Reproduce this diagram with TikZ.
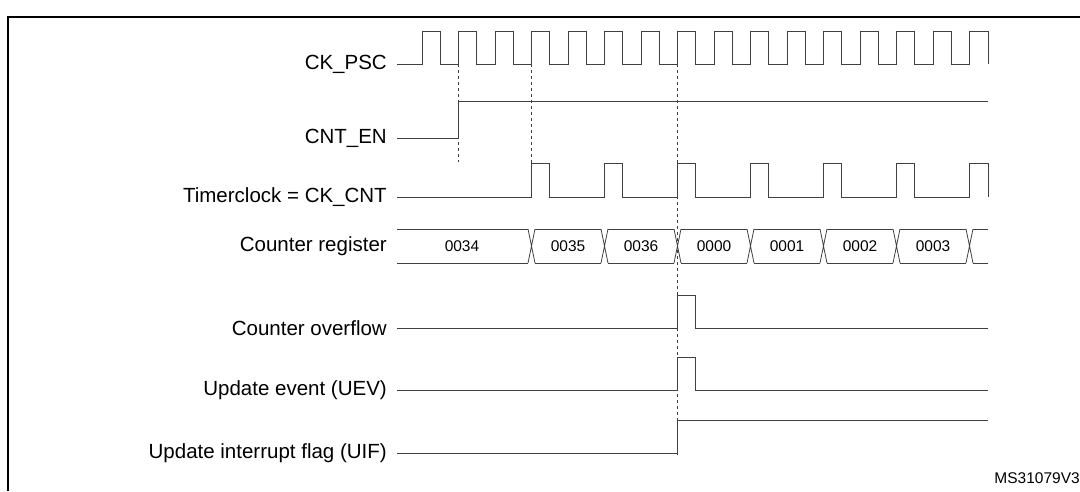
\documentclass[tikz,border=0pt]{standalone}
\usepackage{fontspec}
\setmainfont{Liberation Sans}
\usetikzlibrary{positioning}
\tikzset{
  sig/.style={draw=black!75, line width=0.8pt},
  guide/.style={draw=black!75, dashed, line width=0.6pt},
  lbl/.style={anchor=east, inner sep=0pt, font=\fontsize{20.5}{22}\selectfont},
  val/.style={inner sep=0pt, font=\fontsize{15.5}{17}\selectfont}
}
\newcommand{\tk}[1]{(422+36.5*(#1))}
\begin{document}
\begin{tikzpicture}[x=1pt, y=-1pt]
    \useasboundingbox (0,0) rectangle (1080,491);
    % frame
    \draw[line width=1.6pt] (8,491) -- (8,17) -- (1082,17);

    % labels
    \node[lbl] (psc) at (387,64) {CK\_PSC};
    \node[lbl] (en) at (387,138) {CNT\_EN};
    \node[lbl] (cnt) at (387,197) {Timerclock = CK\_CNT};
    \node[lbl] (reg) at (387,246) {Counter register};
    \node[lbl] (ovf) at (387,328) {Counter overflow};
    \node[lbl] (uev) at (387,390) {Update event (UEV)};
    \node[lbl] (uif) at (387,453) {Update interrupt flag (UIF)};

    % CK_PSC
    \draw[sig] (397,64) -- (422,64)
      \foreach \k in {0,...,14} { -- ({\tk{\k}},31) -- ({\tk{\k}+18.25},31) -- ({\tk{\k}+18.25},64) -- ({\tk{\k+1}},64) }
      -- ({\tk{15}},31) -- (988,31) -- (988,64);

    % CNT_EN
    \draw[sig] (397,138) -- ({\tk{1}},138) -- ({\tk{1}},101) -- (988,101);

    % Timerclock
    \draw[sig] (397,197) -- ({\tk{3}},197)
      \foreach \k in {3,5,...,13} { -- ({\tk{\k}},163) -- ({\tk{\k}+18.25},163) -- ({\tk{\k}+18.25},197) -- ({\tk{\k+2}},197) }
      -- ({\tk{15}},163) -- (988,163) -- (988,197);

    % Counter register
    \draw[sig] (397,229) -- ({\tk{3}-3.5},229) (397,263) -- ({\tk{3}-3.5},263);
    \foreach \k in {3,5,...,15} {
      \draw[sig] ({\tk{\k}-3.5},229) -- ({\tk{\k}+3.5},263) ({\tk{\k}-3.5},263) -- ({\tk{\k}+3.5},229);
    }
    \foreach \k in {3,5,...,13} {
      \draw[sig] ({\tk{\k}+3.5},229) -- ({\tk{\k+2}-3.5},229) ({\tk{\k}+3.5},263) -- ({\tk{\k+2}-3.5},263);
    }
    \draw[sig] ({\tk{15}+3.5},229) -- (988,229) ({\tk{15}+3.5},263) -- (988,263);
    \node[val] (v34) at (462,246) {0034};
    \foreach \k/\v in {3/0035,5/0036,7/0000,9/0001,11/0002,13/0003}
      \node[val] (v\v) at ({\tk{\k}+36.5},246) {\v};

    % Counter overflow and UEV
    \foreach \y in {328,390} {
      \draw[sig] (397,\y) -- ({\tk{7}},\y) -- ({\tk{7}},\y-33) -- ({\tk{7}+18.25},\y-33) -- ({\tk{7}+18.25},\y) -- (988,\y);
    }

    % UIF
    \draw[sig] (397,453) -- ({\tk{7}},453) -- ({\tk{7}},420) -- (988,420);

    % guides
    \draw[guide] ({\tk{1}},64) -- ({\tk{1}},162);
    \draw[guide] ({\tk{3}},64) -- ({\tk{3}},163);
    \draw[guide] ({\tk{7}},64) -- ({\tk{7}},455);

    \node[val, anchor=south east] (ref) at (1080,484) {MS31079V3};
\end{tikzpicture}
\end{document}
